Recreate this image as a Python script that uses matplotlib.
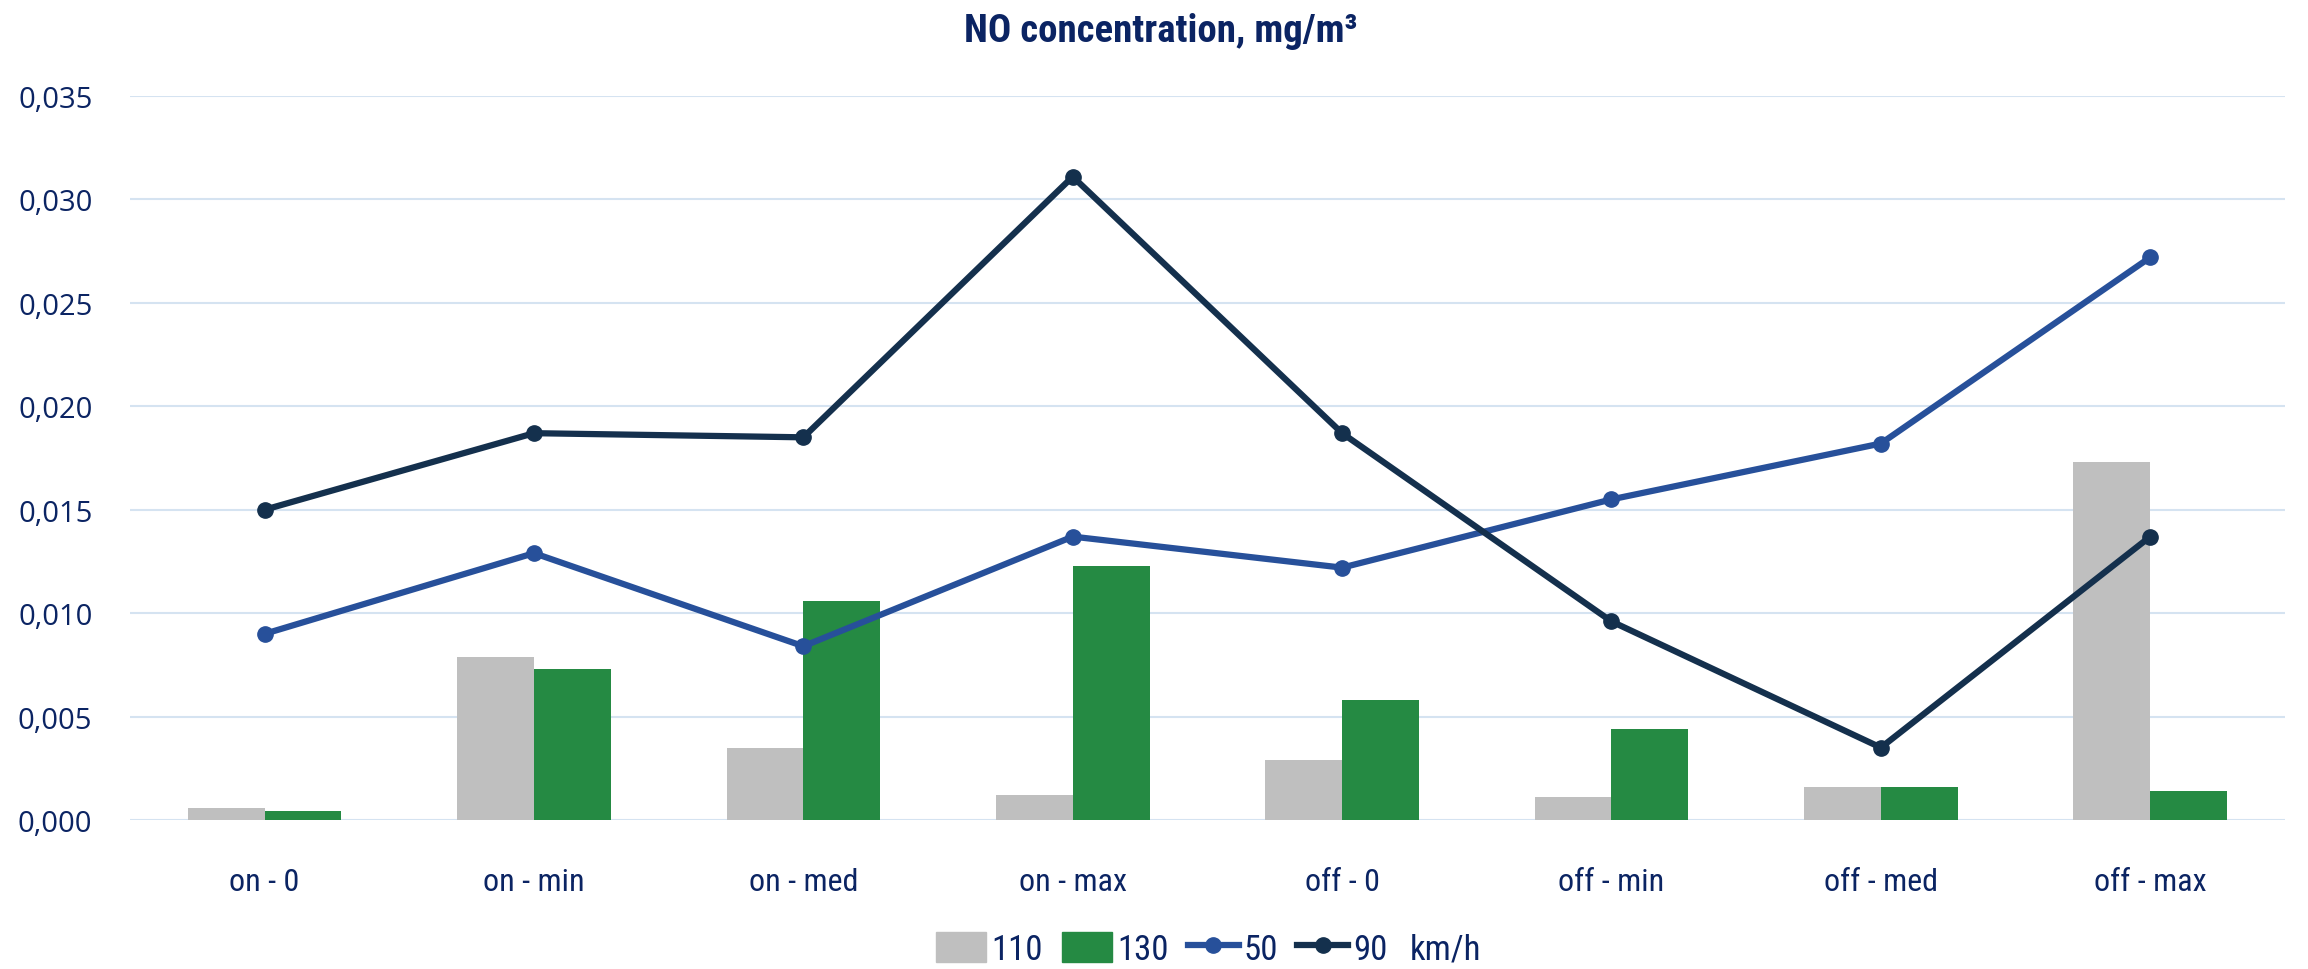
import matplotlib.pyplot as plt
import numpy as np
from matplotlib.ticker import FuncFormatter
from matplotlib.lines import Line2D
from matplotlib.patches import Patch

# data
categories = ['on - 0', 'on - min', 'on - med', 'on - max', 'off - 0', 'off - min', 'off - med', 'off - max']
bars_110 = [0.00057, 0.0079, 0.0035, 0.0012, 0.0029, 0.0011, 0.0016, 0.0173]
bars_130 = [0.00043, 0.0073, 0.0106, 0.0123, 0.0058, 0.0044, 0.0016, 0.0014]
line_50 = [0.0090, 0.0129, 0.0084, 0.0137, 0.0122, 0.0155, 0.0182, 0.0272]
line_90 = [0.0150, 0.0187, 0.0185, 0.0311, 0.0187, 0.0096, 0.0035, 0.0137]

text_col = '#0b2463'
gray = '#bfbfbf'
green = '#258a43'
blue = '#27509a'
navy = '#14304d'
cond = ['Roboto Condensed', 'DejaVu Sans']
plain = ['Open Sans', 'DejaVu Sans']

fig = plt.figure(figsize=(23.08, 9.70), dpi=100)
ax = fig.add_axes([0.0563, 0.1536, 0.9337, 0.7464])

x = np.arange(len(categories))
w = 0.285
ax.bar(x - w / 2, bars_110, width=w, color=gray, zorder=2)
ax.bar(x + w / 2, bars_130, width=w, color=green, zorder=2)
ax.plot(x, line_50, color=blue, lw=4.5, marker='o', ms=11, zorder=3)
ax.plot(x, line_90, color=navy, lw=4.5, marker='o', ms=11, zorder=4)

ax.set_xlim(-0.5, len(categories) - 0.5)
ax.set_ylim(0, 0.035)
ax.set_yticks(np.arange(0, 0.0351, 0.005))
ax.yaxis.set_major_formatter(FuncFormatter(lambda v, p: f"{v:.3f}".replace('.', ',')))
ax.grid(axis='y', color='#d5e3f1', lw=1.5, zorder=0)
ax.set_axisbelow(True)
for s in ax.spines.values():
    s.set_visible(False)
ax.tick_params(length=0)
ax.tick_params(axis='y', pad=27)
for lab in ax.get_yticklabels():
    lab.set_fontsize(21)
    lab.set_color(text_col)
    lab.set_family(plain)
ax.set_xticks(x)
ax.set_xticklabels(categories, fontsize=23, color=text_col, family=cond)
ax.tick_params(axis='x', pad=34)

fig.text(0.503, 0.968, 'NO concentration, mg/m³', ha='center', va='center',
         fontsize=28, fontweight='bold', color=text_col, family=cond)

handles = [Patch(color=gray), Patch(color=green),
           Line2D([], [], color=blue, lw=4.5, marker='o', ms=11),
           Line2D([], [], color=navy, lw=4.5, marker='o', ms=11)]
leg = fig.legend(handles, ['110', '130', '50', '90'], ncol=4, loc='center left',
                 bbox_to_anchor=(0.4055, 0.021), frameon=False,
                 prop={'family': cond, 'size': 25}, handlelength=1.45,
                 handleheight=0.95, handletextpad=0.15, columnspacing=0.55,
                 borderpad=0, borderaxespad=0)
for t in leg.get_texts():
    t.set_color(text_col)
fig.text(0.611, 0.021, 'km/h', ha='left', va='center', fontsize=25,
         color=text_col, family=cond)

fig.savefig('out.png', dpi=100)
